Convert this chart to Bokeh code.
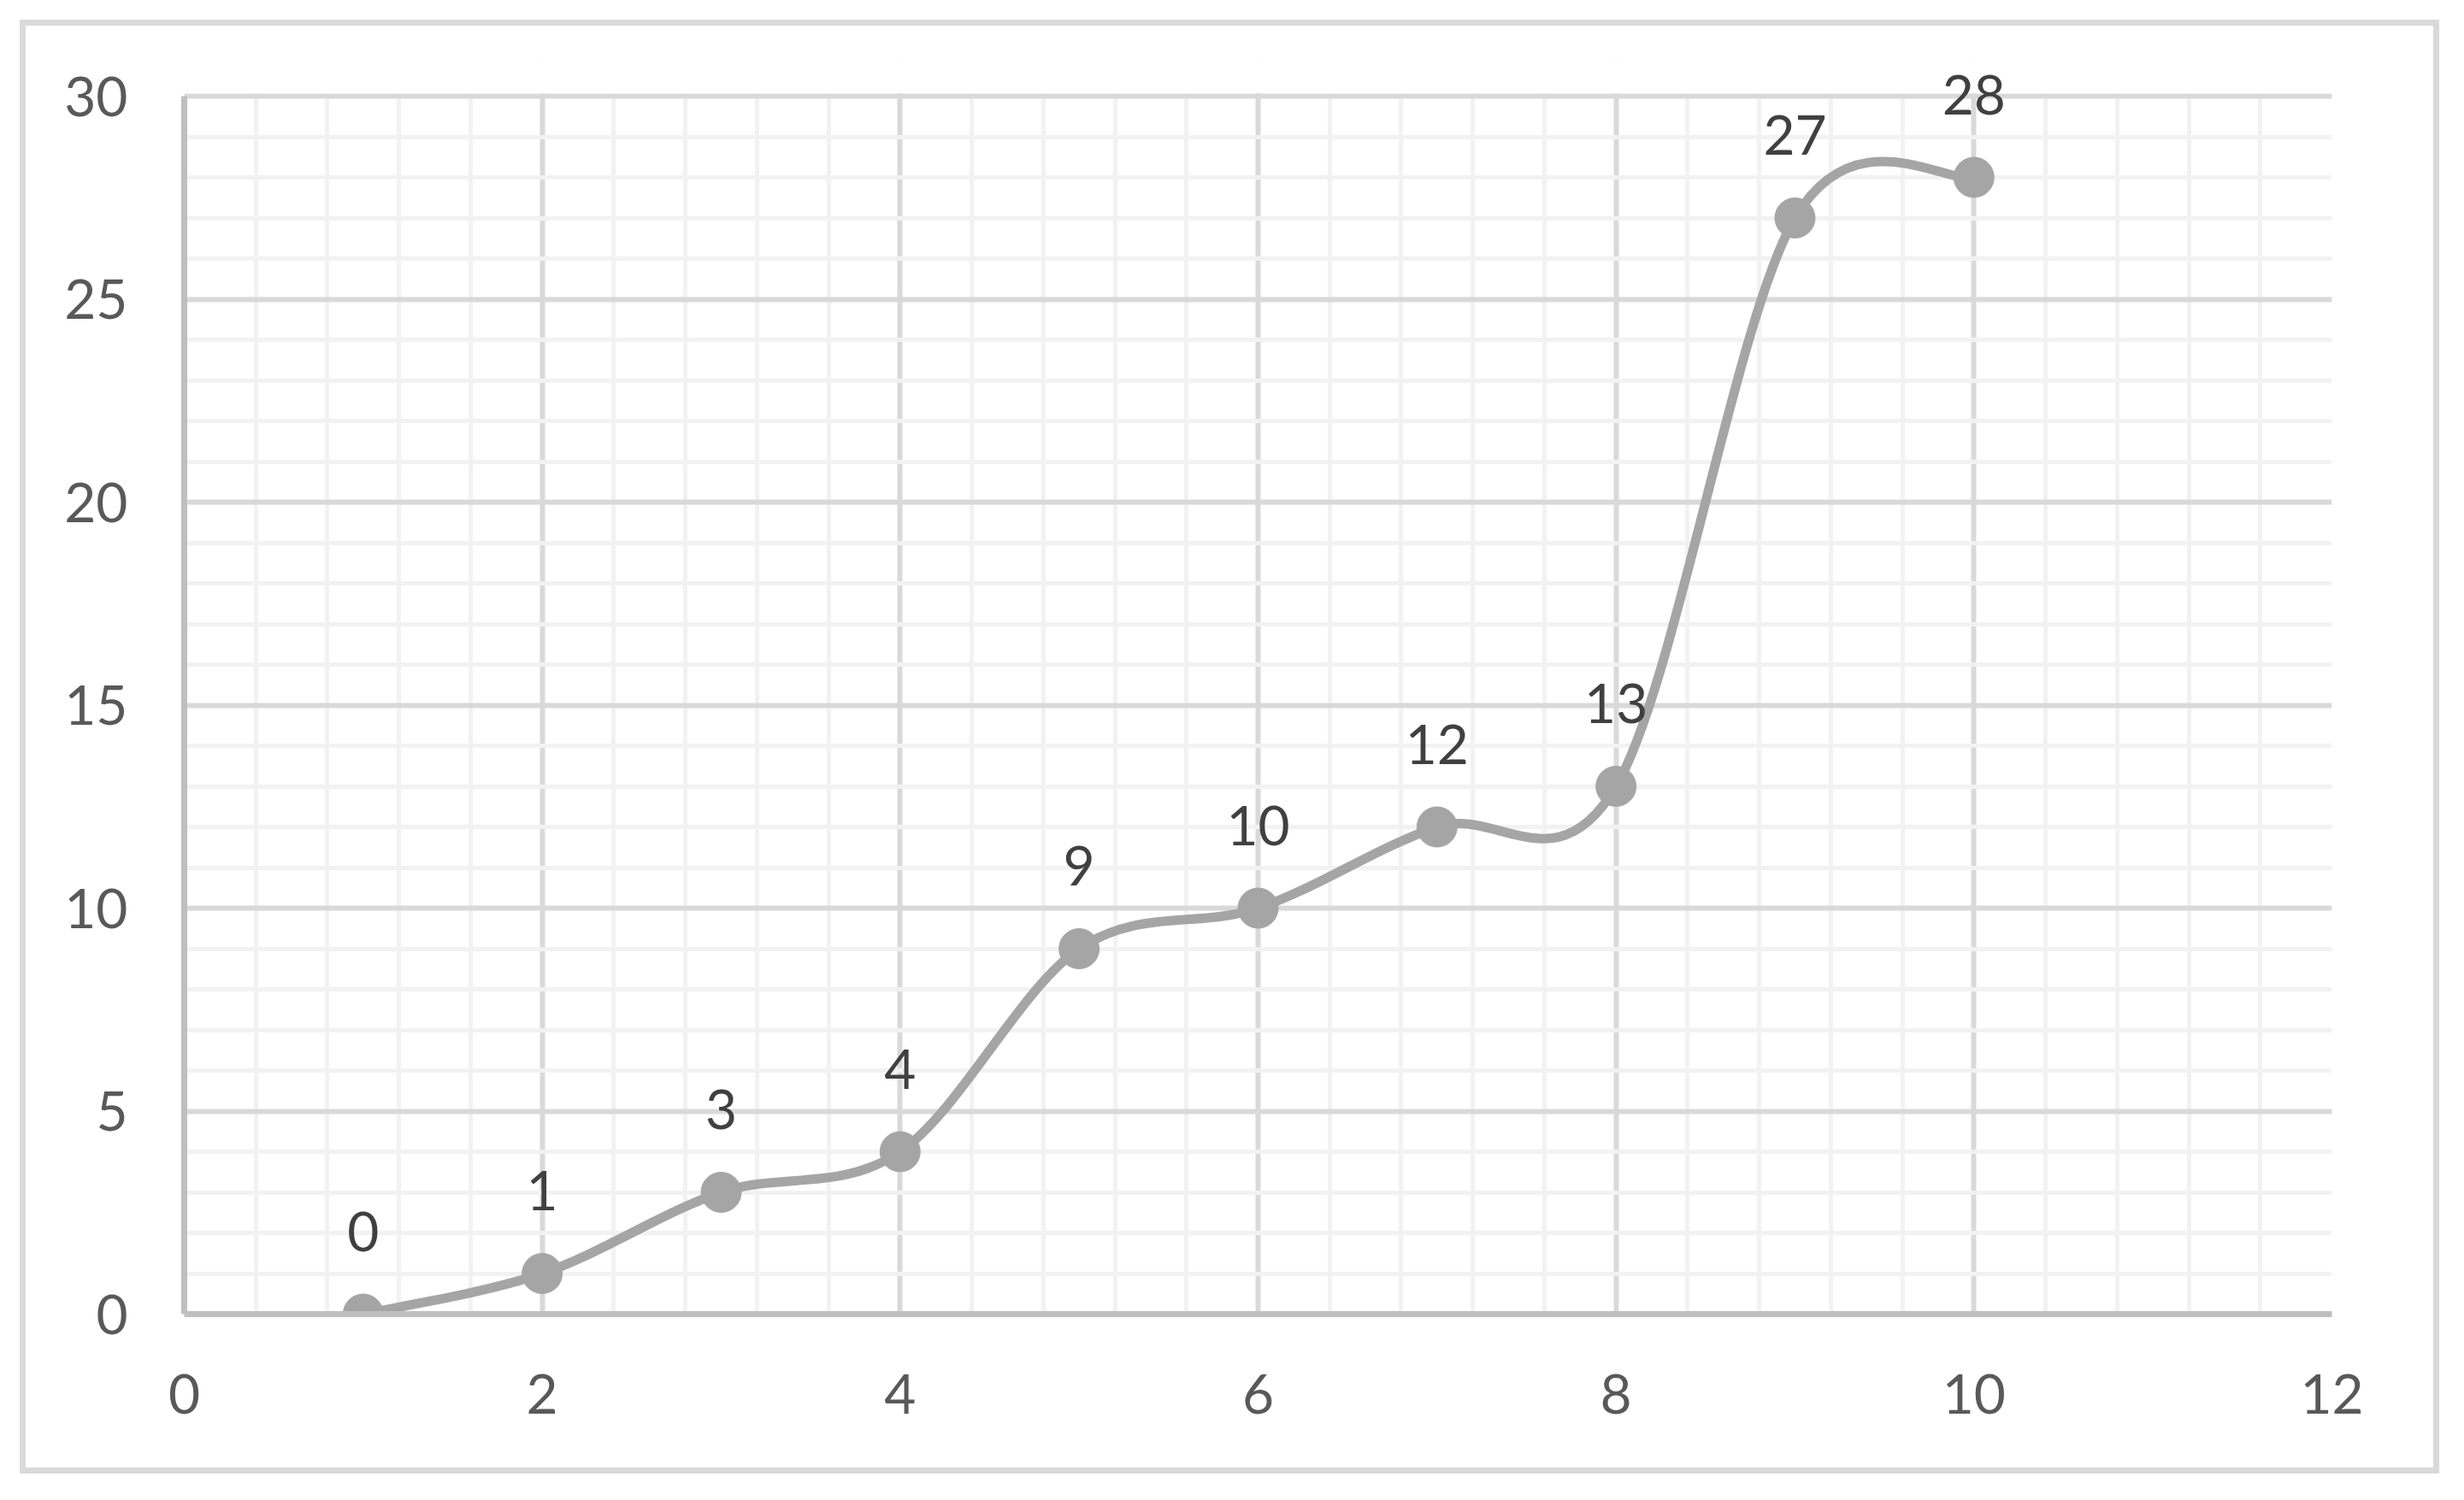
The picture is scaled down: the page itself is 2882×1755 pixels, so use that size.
import numpy as np
from bokeh.plotting import figure
from bokeh.models import Range1d, SingleIntervalTicker, BoxAnnotation, ColumnDataSource
from bokeh.core.properties import value
from bokeh.embed import file_html
from bokeh.resources import INLINE

# ---- data ----
x_vals = [1, 2, 3, 4, 5, 6, 7, 8, 9, 10]
y_vals = [0, 1, 3, 4, 9, 10, 12, 13, 27, 28]
labels = [str(v) for v in y_vals]
x_ticks_interval = 2
y_ticks_interval = 5
x_max = 12
y_max = 30

FONT = "Lato"
LINE_COL = "#a5a5a5"

# figure is offset by 30px on the page; the chart border is a CSS outline around it
W, H = 2816, 1687
FRAME_L, FRAME_R = 185, 2697
Y_TOP_PX, FRAME_T, FRAME_B = 82, 40, 1507   # y=30 line, frame top (room for labels), y=0 line
y_end = y_max * (FRAME_B - FRAME_T) / (FRAME_B - Y_TOP_PX)

p = figure(width=W, height=H, x_range=Range1d(0, x_max), y_range=Range1d(0, y_end),
           output_backend="svg", toolbar_location=None,
           min_border_left=FRAME_L, min_border_right=W - FRAME_R, min_border_top=FRAME_T,
           min_border_bottom=H - FRAME_B)
p.styles = {"margin-left": "30px", "margin-top": "30px", "outline": "7px solid #d9d9d9"}
p.outline_line_color = None
p.background_fill_color = "white"
p.border_fill_color = "white"

p.xaxis.ticker = SingleIntervalTicker(interval=x_ticks_interval, num_minor_ticks=5)
p.yaxis.ticker = SingleIntervalTicker(interval=y_ticks_interval, num_minor_ticks=5)
p.xgrid.ticker = p.xaxis.ticker
p.ygrid.ticker = p.yaxis.ticker
p.yaxis.bounds = (0, y_max)

for g in (p.xgrid, p.ygrid):
    g.grid_line_color = "#d9d9d9"
    g.grid_line_width = 6
    g.minor_grid_line_color = "#f2f2f2"
    g.minor_grid_line_width = 5

for ax in (p.xaxis, p.yaxis):
    ax.axis_line_color = "#bfbfbf"
    ax.axis_line_width = 7
    ax.major_tick_line_color = None
    ax.minor_tick_line_color = None
    ax.major_tick_out = 0
    ax.major_tick_in = 0
    ax.minor_tick_out = 0
    ax.minor_tick_in = 0
    ax.major_label_text_font = FONT
    ax.major_label_text_font_size = "64px"
    ax.major_label_text_color = "#595959"
p.yaxis.major_label_standoff = 66
p.xaxis.major_label_standoff = 70

# blank band above the 30 line (room for the data labels), drawn over the grid only
px_per_unit = (FRAME_B - Y_TOP_PX) / y_max
p.add_layout(BoxAnnotation(bottom=y_max + 3.2 / px_per_unit, fill_color="white", fill_alpha=1.0,
                           line_alpha=0, level="underlay"))

# smoothed line (Catmull-Rom style Bezier through the data points)
xs = np.array(x_vals, dtype=float)
ys = np.array(y_vals, dtype=float)
px = np.concatenate([[xs[0]], xs, [xs[-1]]])
py = np.concatenate([[ys[0]], ys, [ys[-1]]])
n = len(xs)
x0 = xs[:-1]; y0 = ys[:-1]; x1 = xs[1:]; y1 = ys[1:]
cx0 = x0 + (px[2:n+1] - px[0:n-1]) / 6.0
cy0 = y0 + (py[2:n+1] - py[0:n-1]) / 6.0
cx1 = x1 - (px[3:n+2] - px[1:n]) / 6.0
cy1 = y1 - (py[3:n+2] - py[1:n]) / 6.0
p.bezier(x0=x0, y0=y0, x1=x1, y1=y1, cx0=cx0, cy0=cy0, cx1=cx1, cy1=cy1,
         line_color=LINE_COL, line_width=11, line_cap="round")

src = ColumnDataSource(dict(x=x_vals, y=y_vals, label=labels))
p.scatter("x", "y", source=src, size=47, fill_color=LINE_COL, line_color=LINE_COL)
p.text("x", "y", text="label", source=src, text_align="center", text_baseline="alphabetic",
       y_offset=-97, text_font=value(FONT), text_font_size="64px", text_color="#404040")

open("out.html", "w").write(file_html(p, INLINE))
